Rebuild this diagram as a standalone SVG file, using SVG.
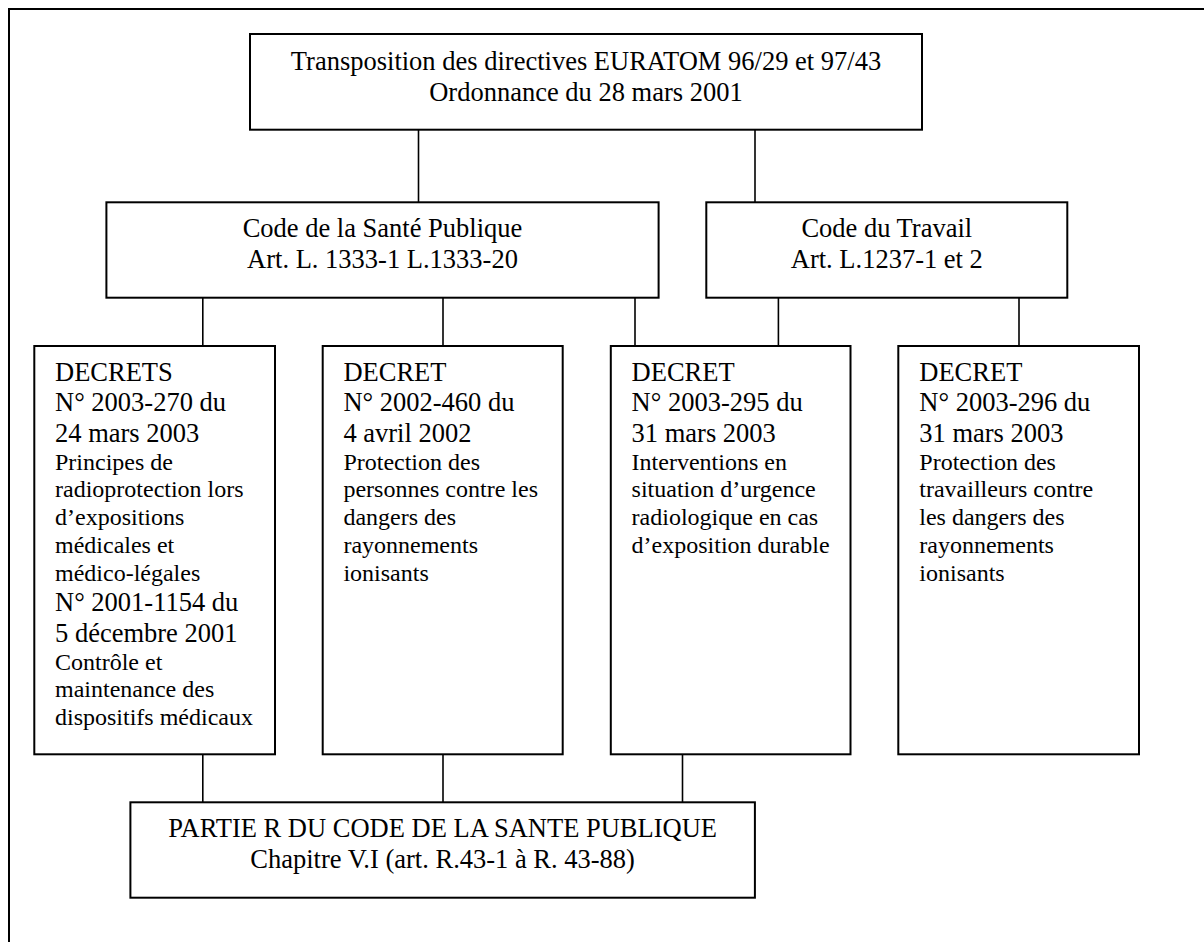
<svg xmlns="http://www.w3.org/2000/svg" width="1204" height="942" viewBox="0 0 1204 942">
  <style>
    .box { fill: #ffffff; stroke: #000000; stroke-width: 2; }
    .frame { fill: none; stroke: #000000; stroke-width: 2; }
    .link { stroke: #000000; stroke-width: 1.6; fill: none; }
    .t { font-family: "Liberation Serif", "Times New Roman", serif; fill: #000000; }
    .big { font-size: 26.5px; }
    .small { font-size: 24px; }
    .mid { text-anchor: middle; }
  </style>

  <rect width="1204" height="942" fill="#ffffff"/>
  <!-- page frame (continues past the right and bottom edges) -->
  <rect class="frame" x="9" y="9" width="1300" height="1000"/>

  <!-- connectors -->
  <g id="connectors">
    <line class="link" x1="418.5" y1="129.7" x2="418.5" y2="202.3"/>
    <line class="link" x1="755" y1="129.7" x2="755" y2="202.3"/>
    <line class="link" x1="202.8" y1="297.7" x2="202.8" y2="346"/>
    <line class="link" x1="443" y1="297.7" x2="443" y2="346"/>
    <line class="link" x1="635" y1="297.7" x2="635" y2="346"/>
    <line class="link" x1="778.4" y1="297.7" x2="778.4" y2="346"/>
    <line class="link" x1="1019" y1="297.7" x2="1019" y2="346"/>
    <line class="link" x1="202.8" y1="754.3" x2="202.8" y2="802.3"/>
    <line class="link" x1="443" y1="754.3" x2="443" y2="802.3"/>
    <line class="link" x1="682.5" y1="754.3" x2="682.5" y2="802.3"/>
  </g>

  <g id="transposition">
    <rect class="box" x="250" y="34" width="672" height="95.7"/>
    <text class="t big mid" x="586" y="69.5">Transposition des directives EURATOM 96/29 et 97/43</text>
    <text class="t big mid" x="586" y="100.5">Ordonnance du 28 mars 2001</text>
  </g>

  <g id="code-sante">
    <rect class="box" x="106.4" y="202.3" width="552.2" height="95.4"/>
    <text class="t big mid" x="382.5" y="237.3">Code de la Santé Publique</text>
    <text class="t big mid" x="382.5" y="268.3">Art. L. 1333-1 L.1333-20</text>
  </g>

  <g id="code-travail">
    <rect class="box" x="706.3" y="202.3" width="361" height="95.4"/>
    <text class="t big mid" x="886.8" y="237.3">Code du Travail</text>
    <text class="t big mid" x="886.8" y="268.3">Art. L.1237-1 et 2</text>
  </g>

  <g id="decrets-2003-270">
    <rect class="box" x="34.3" y="346" width="240.7" height="408.3"/>
    <text class="t big" x="55" y="380.7">DECRETS</text>
    <text class="t big" x="55" y="411">N° 2003-270 du</text>
    <text class="t big" x="55" y="441.7">24 mars 2003</text>
    <text class="t small" x="55" y="470">Principes de</text>
    <text class="t small" x="55" y="497.3">radioprotection lors</text>
    <text class="t small" x="55" y="525">d’expositions</text>
    <text class="t small" x="55" y="553.3">médicales et</text>
    <text class="t small" x="55" y="580.7">médico-légales</text>
    <text class="t big" x="55" y="610.7">N° 2001-1154 du</text>
    <text class="t big" x="55" y="641.7">5 décembre 2001</text>
    <text class="t small" x="55" y="670">Contrôle et</text>
    <text class="t small" x="55" y="697.3">maintenance des</text>
    <text class="t small" x="55" y="725">dispositifs médicaux</text>
  </g>

  <g id="decret-2002-460">
    <rect class="box" x="322.7" y="346" width="240" height="408.3"/>
    <text class="t big" x="343.4" y="380.7">DECRET</text>
    <text class="t big" x="343.4" y="411">N° 2002-460 du</text>
    <text class="t big" x="343.4" y="441.7">4 avril 2002</text>
    <text class="t small" x="343.4" y="470">Protection des</text>
    <text class="t small" x="343.4" y="497.3">personnes contre les</text>
    <text class="t small" x="343.4" y="525">dangers des</text>
    <text class="t small" x="343.4" y="553.3">rayonnements</text>
    <text class="t small" x="343.4" y="580.7">ionisants</text>
  </g>

  <g id="decret-2003-295">
    <rect class="box" x="610.8" y="346" width="239.7" height="408.3"/>
    <text class="t big" x="631.6" y="380.7">DECRET</text>
    <text class="t big" x="631.6" y="411">N° 2003-295 du</text>
    <text class="t big" x="631.6" y="441.7">31 mars 2003</text>
    <text class="t small" x="631.6" y="470">Interventions en</text>
    <text class="t small" x="631.6" y="497.3">situation d’urgence</text>
    <text class="t small" x="631.6" y="525">radiologique en cas</text>
    <text class="t small" x="631.6" y="553.3">d’exposition durable</text>
  </g>

  <g id="decret-2003-296">
    <rect class="box" x="898.3" y="346" width="240.7" height="408.3"/>
    <text class="t big" x="919.3" y="380.7">DECRET</text>
    <text class="t big" x="919.3" y="411">N° 2003-296 du</text>
    <text class="t big" x="919.3" y="441.7">31 mars 2003</text>
    <text class="t small" x="919.3" y="470">Protection des</text>
    <text class="t small" x="919.3" y="497.3">travailleurs contre</text>
    <text class="t small" x="919.3" y="525">les dangers des</text>
    <text class="t small" x="919.3" y="553.3">rayonnements</text>
    <text class="t small" x="919.3" y="580.7">ionisants</text>
  </g>

  <g id="partie-r">
    <rect class="box" x="130.4" y="802.3" width="624.5" height="95.4"/>
    <text class="t big mid" x="442.6" y="837.3">PARTIE R DU CODE DE LA SANTE PUBLIQUE</text>
    <text class="t big mid" x="442.6" y="868.3">Chapitre V.I (art. R.43-1 à R. 43-88)</text>
  </g>
</svg>
